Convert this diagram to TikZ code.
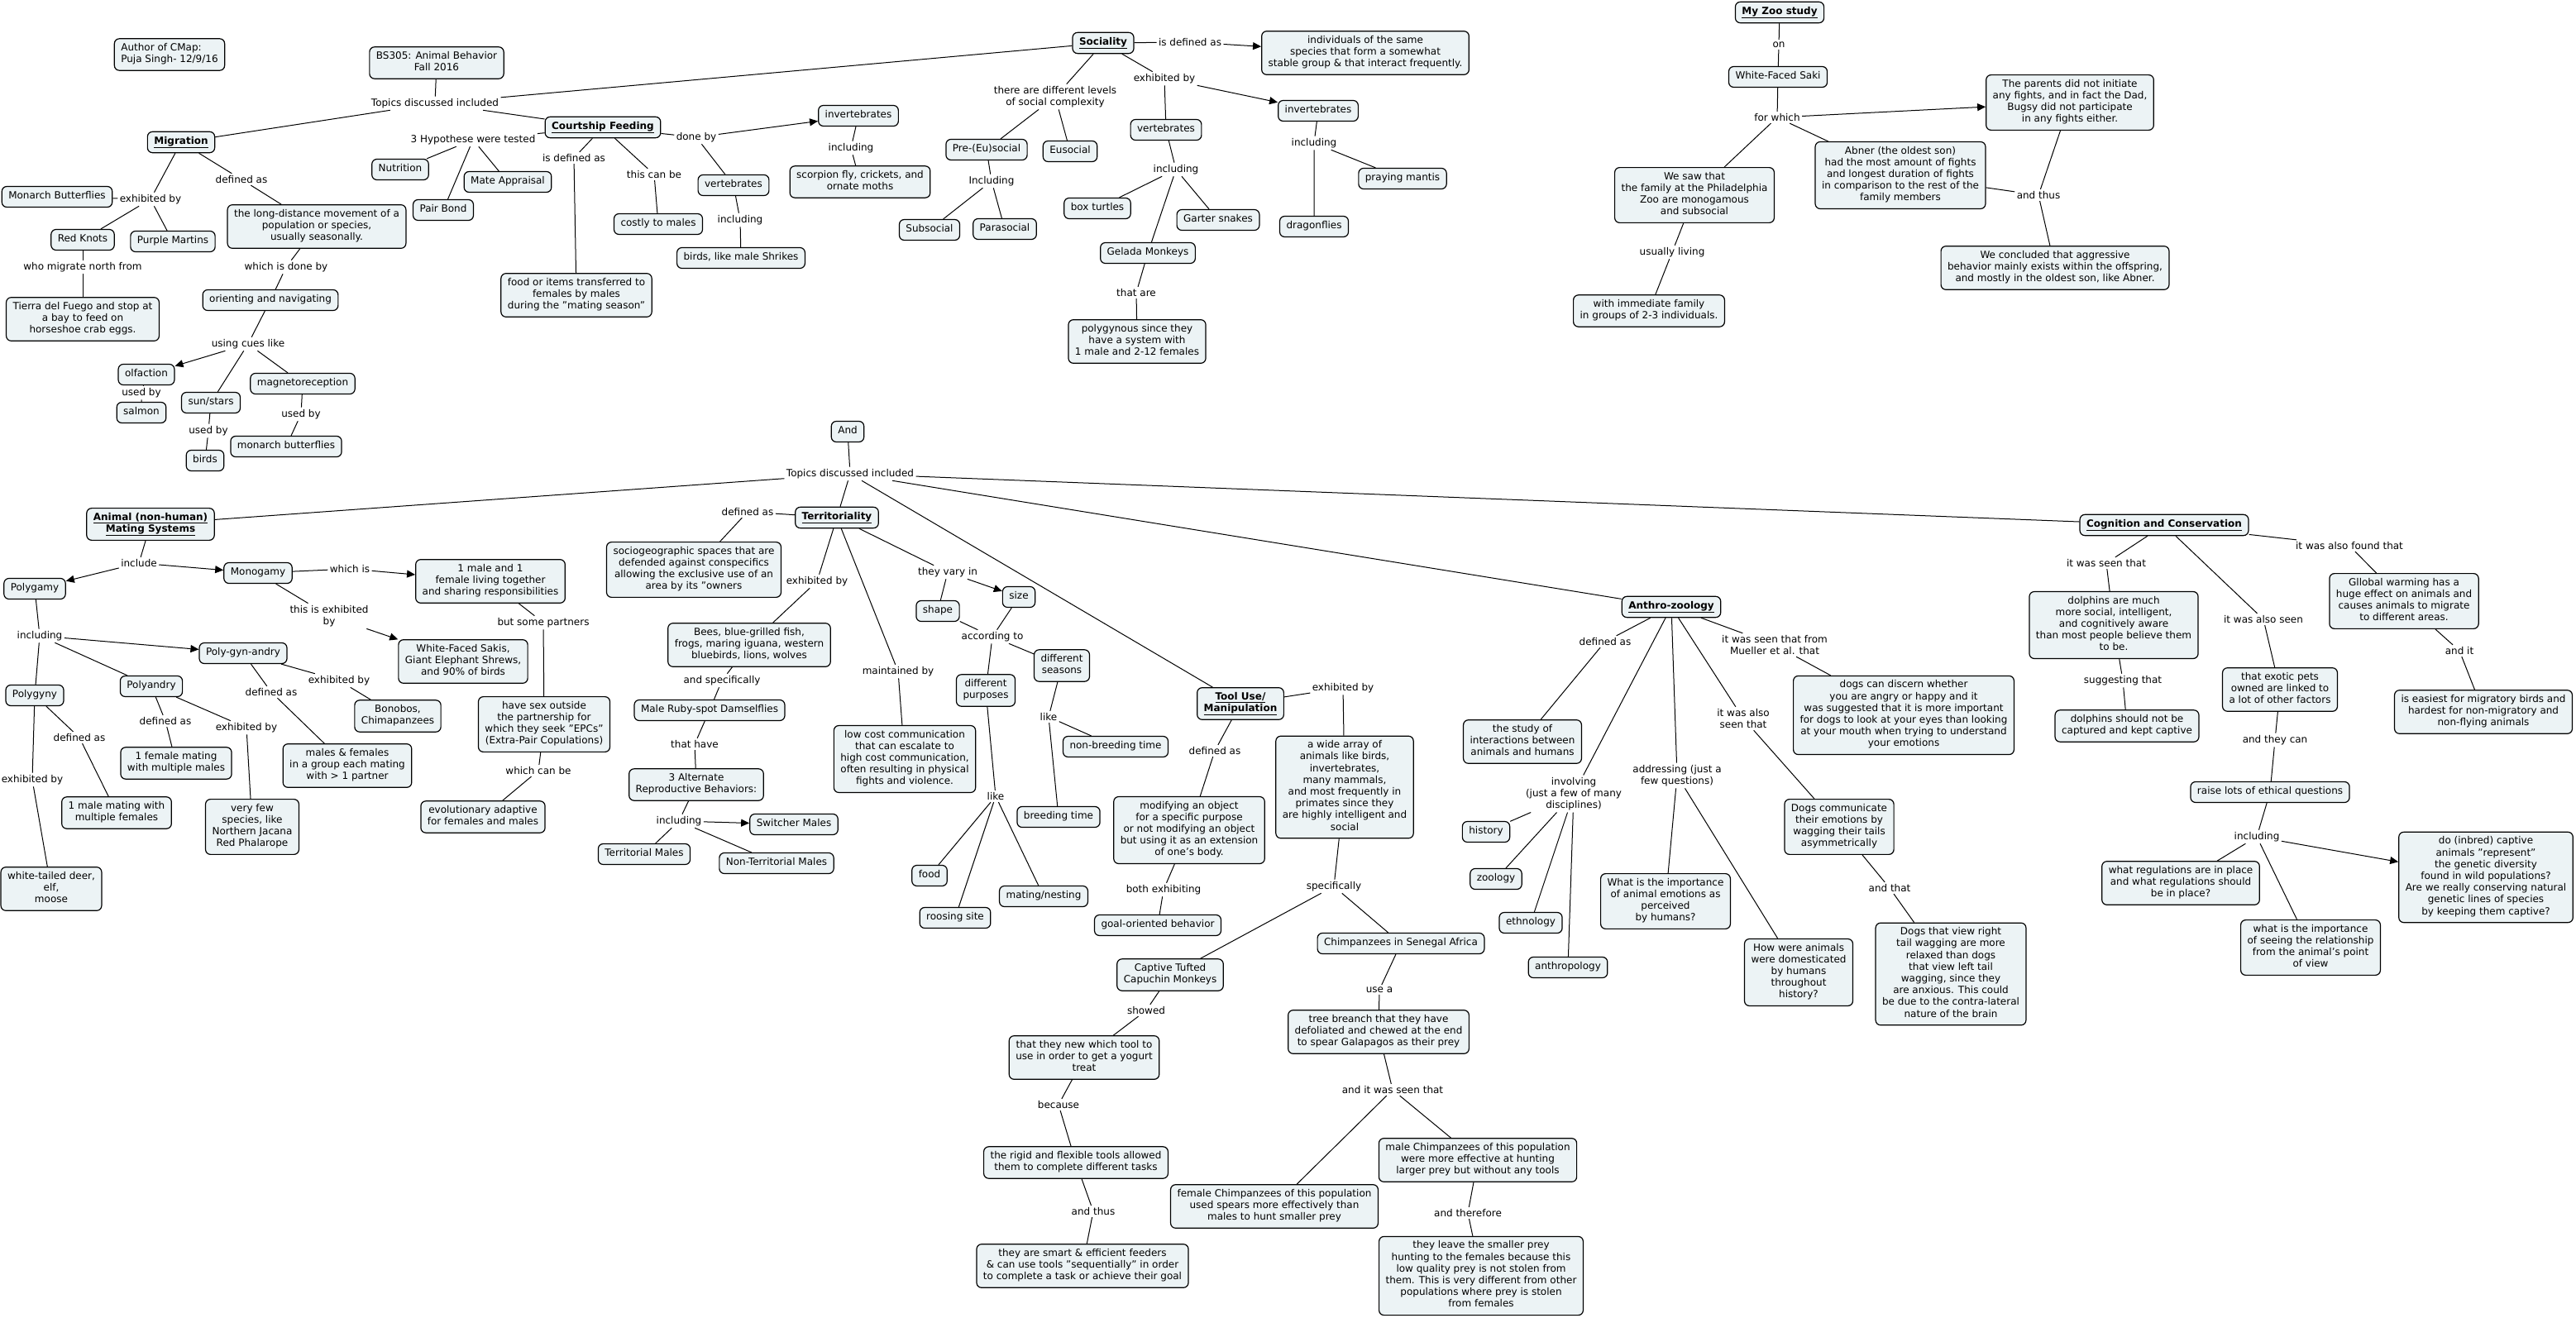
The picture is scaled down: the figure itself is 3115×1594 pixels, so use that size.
\documentclass[tikz,border=0pt]{standalone}
\usepackage{fontspec}
\setmainfont{DejaVu Sans}
\usetikzlibrary{arrows.meta}
\definecolor{cfill}{RGB}{236,243,245}

\begin{document}
\begin{tikzpicture}[x=1pt, y=-1pt, line width=1pt,
  cb/.style={draw, rounded corners=6pt, fill=cfill, line width=1.2pt, align=center,
             font=\fontsize{12}{14.2}\selectfont, inner xsep=8pt, inner ysep=5.4pt,
             execute at begin node=\strut, execute at end node=\strut},
  tb/.style={cb, font=\fontsize{12}{14.2}\selectfont\bfseries},
  lk/.style={align=center, font=\fontsize{12}{14.2}\selectfont, inner sep=2pt},
  arr/.style={-{Triangle[length=10pt,width=9pt]}}
]
\useasboundingbox (0,0) rectangle (3115,1594);

\node[cb, align=left] (auth) at (205,66) {Author of CMap:\\Puja Singh- 12/9/16};
\node[cb] (bs) at (528,76) {BS305: Animal Behavior\\Fall 2016};
\node[tb] (mig) at (219,172) {\underline{Migration}};
\node[tb] (cf) at (729,154) {\underline{Courtship Feeding}};
\node[cb] (nut) at (484,205) {Nutrition};
\node[cb] (mate) at (614,220) {Mate Appraisal};
\node[cb] (pair) at (536,254) {Pair Bond};
\node[cb] (monB) at (69,238) {Monarch Butterflies};
\node[cb] (rk) at (100,290) {Red Knots};
\node[cb] (pm) at (209,292) {Purple Martins};
\node[cb] (tierra) at (100,386) {Tierra del Fuego and stop at\\a bay to feed on\\horseshoe crab eggs.};
\node[cb] (ldm) at (383,274) {the long-distance movement of a\\population or species,\\usually seasonally.};
\node[cb] (orient) at (327,363) {orienting and navigating};
\node[cb] (olf) at (177,453) {olfaction};
\node[cb] (salm) at (171,499) {salmon};
\node[cb] (sun) at (255,487) {sun/stars};
\node[cb] (magn) at (366,464) {magnetoreception};
\node[cb] (bird) at (248,557) {birds};
\node[cb] (monb) at (346,540) {monarch butterflies};
\node[cb] (food) at (697,357) {food or items transferred to\\females by males\\during the "mating season"};
\node[cb] (cost) at (796,271) {costly to males};
\node[cb] (invc) at (1038,140) {invertebrates};
\node[cb] (scorp) at (1040,220) {scorpion fly, crickets, and\\ornate moths};
\node[cb] (vertc) at (887,224) {vertebrates};
\node[cb] (shrike) at (896,312) {birds, like male Shrikes};

\node[tb] (soc) at (1334,52) {\underline{Sociality}};
\node[cb] (indiv) at (1651,64) {individuals of the same\\species that form a somewhat\\stable group \& that interact frequently.};
\node[cb] (preeu) at (1193,181) {Pre-(Eu)social};
\node[cb] (eus) at (1294,183) {Eusocial};
\node[cb] (subs) at (1124,278) {Subsocial};
\node[cb] (paras) at (1215,277) {Parasocial};
\node[cb] (verts) at (1410,157) {vertebrates};
\node[cb] (boxt) at (1327,252) {box turtles};
\node[cb] (garter) at (1473,266) {Garter snakes};
\node[cb] (gelada) at (1388,306) {Gelada Monkeys};
\node[cb] (polyg) at (1375,413) {polygynous since they\\have a system with\\1 male and 2-12 females};
\node[cb] (invs) at (1594,134) {invertebrates};
\node[cb] (mantis) at (1696,216) {praying mantis};
\node[cb] (dragon) at (1589,274) {dragonflies};

\node[tb] (zoo) at (2152,15) {\underline{My Zoo study}};
\node[cb] (saki) at (2150,93) {White-Faced Saki};
\node[cb] (saw) at (2049,236) {We saw that\\the family at the Philadelphia\\Zoo are monogamous\\and subsocial};
\node[cb] (fam) at (1994,376) {with immediate family\\in groups of 2-3 individuals.};
\node[cb] (abner) at (2298,212) {Abner (the oldest son)\\had the most amount of fights\\and longest duration of fights\\in comparison to the rest of the\\family members};
\node[cb] (parents) at (2503,124) {The parents did not initiate\\any fights, and in fact the Dad,\\Bugsy did not participate\\in any fights either.};
\node[cb] (concl) at (2485,324) {We concluded that aggressive\\behavior mainly exists within the offspring,\\and mostly in the oldest son, like Abner.};

\node[cb] (and) at (1025,522) {And};
\node[tb] (ams) at (182,634) {\underline{Animal (non-human)}\\\underline{Mating Systems}};
\node[cb] (polygamy) at (42,712) {Polygamy};
\node[cb] (mono) at (312,693) {Monogamy};
\node[cb] (onemale) at (593,703) {1 male and 1\\female living together\\and sharing responsibilities};
\node[cb] (wfs) at (560,800) {White-Faced Sakis,\\Giant Elephant Shrews,\\and 90\% of birds};
\node[cb] (pga) at (294,790) {Poly-gyn-andry};
\node[cb] (pandry) at (183,830) {Polyandry};
\node[cb] (pgyny) at (42,841) {Polygyny};
\node[cb] (bono) at (481,866) {Bonobos,\\Chimapanzees};
\node[cb] (onefem) at (213,923) {1 female mating\\with multiple males};
\node[cb] (mf) at (420,926) {males \& females\\in a group each mating\\with > 1 partner};
\node[cb] (sexout) at (658,876) {have sex outside\\the partnership for\\which they seek "EPCs"\\(Extra-Pair Copulations)};
\node[cb] (evol) at (584,988) {evolutionary adaptive\\for females and males};
\node[cb] (onemm) at (141,983) {1 male mating with\\multiple females};
\node[cb] (fewsp) at (305,1000) {very few\\species, like\\Northern Jacana\\Red Phalarope};
\node[cb] (deer) at (62,1075) {white-tailed deer,\\elf,\\moose};

\node[tb] (terr) at (1012,626) {\underline{Territoriality}};
\node[cb] (socgeo) at (839,689) {sociogeographic spaces that are\\defended against conspecifics\\allowing the exclusive use of an\\area by its "owners};
\node[cb] (bees) at (906,780) {Bees, blue-grilled fish,\\frogs, maring iguana, western\\bluebirds, lions, wolves};
\node[cb] (ruby) at (858,859) {Male Ruby-spot Damselflies};
\node[cb] (alt3) at (842,949) {3 Alternate\\Reproductive Behaviors:};
\node[cb] (switch) at (960,997) {Switcher Males};
\node[cb] (terrm) at (779,1033) {Territorial Males};
\node[cb] (nonterr) at (939,1044) {Non-Territorial Males};
\node[cb] (lowcost) at (1094,918) {low cost communication\\that can escalate to\\high cost communication,\\often resulting in physical\\fights and violence.};
\node[cb] (size) at (1232,722) {size};
\node[cb] (shape) at (1134,739) {shape};
\node[cb] (seas) at (1284,805) {different\\seasons};
\node[cb] (purp) at (1192,835) {different\\purposes};
\node[cb] (nonbr) at (1349,903) {non-breeding time};
\node[cb] (breed) at (1280,988) {breeding time};
\node[cb] (foodp) at (1124,1059) {food};
\node[cb] (mating) at (1262,1084) {mating/nesting};
\node[cb] (roost) at (1155,1110) {roosing site};

\node[tb] (tool) at (1500,851) {\underline{Tool Use/}\\\underline{Manipulation}};
\node[cb] (modif) at (1438,1004) {modifying an object\\for a specific purpose\\or not modifying an object\\but using it as an extension\\of one's body.};
\node[cb] (goal) at (1400,1119) {goal-oriented behavior};
\node[cb] (wide) at (1626,952) {a wide array of\\animals like birds,\\invertebrates,\\many mammals,\\and most frequently in\\primates since they\\are highly intelligent and\\social};
\node[cb] (capuchin) at (1415,1179) {Captive Tufted\\Capuchin Monkeys};
\node[cb] (knew) at (1311,1279) {that they new which tool to\\use in order to get a yogurt\\treat};
\node[cb] (rigid) at (1301,1406) {the rigid and flexible tools allowed\\them to complete different tasks};
\node[cb] (smart) at (1309,1531) {they are smart \& efficient feeders\\\& can use tools "sequentially" in order\\to complete a task or achieve their goal};
\node[cb] (chimp) at (1694,1141) {Chimpanzees in Senegal Africa};
\node[cb] (tree) at (1667,1248) {tree breanch that they have\\defoliated and chewed at the end\\to spear Galapagos as their prey};
\node[cb] (femch) at (1541,1459) {female Chimpanzees of this population\\used spears more effectively than\\males to hunt smaller prey};
\node[cb] (malech) at (1787,1403) {male Chimpanzees of this population\\were more effective at hunting\\larger prey but without any tools};
\node[cb] (leave) at (1791,1543) {they leave the smaller prey\\hunting to the females because this\\low quality prey is not stolen from\\them. This is very different from other\\populations where prey is stolen\\from females};

\node[tb] (anthro) at (2021,734) {\underline{Anthro-zoology}};
\node[cb] (study) at (1841,897) {the study of\\interactions between\\animals and humans};
\node[cb] (hist) at (1797,1006) {history};
\node[cb] (zool) at (1809,1063) {zoology};
\node[cb] (ethno) at (1851,1116) {ethnology};
\node[cb] (anthp) at (1896,1170) {anthropology};
\node[cb] (emot) at (2014,1090) {What is the importance\\of animal emotions as\\perceived\\by humans?};
\node[cb] (domest) at (2175,1176) {How were animals\\were domesticated\\by humans\\throughout\\history?};
\node[cb] (dogcom) at (2224,1000) {Dogs communicate\\their emotions by\\wagging their tails\\asymmetrically};
\node[cb] (discern) at (2302,865) {dogs can discern whether\\you are angry or happy and it\\was suggested that it is more important\\for dogs to look at your eyes than looking\\at your mouth when trying to understand\\your emotions};
\node[cb] (rightw) at (2359,1178) {Dogs that view right\\tail wagging are more\\relaxed than dogs\\that view left tail\\wagging, since they\\are anxious. This could\\be due to the contra-lateral\\nature of the brain};

\node[tb] (cog) at (2617,635) {\underline{Cognition and Conservation}};
\node[cb] (dolph) at (2556,756) {dolphins are much\\more social, intelligent,\\and cognitively aware\\than most people believe them\\to be.};
\node[cb] (dolphno) at (2572,878) {dolphins should not be\\captured and kept captive};
\node[cb] (exotic) at (2757,834) {that exotic pets\\owned are linked to\\a lot of other factors};
\node[cb] (ethics) at (2745,958) {raise lots of ethical questions};
\node[cb] (regul) at (2637,1068) {what regulations are in place\\and what regulations should\\be in place?};
\node[cb] (pov) at (2794,1146) {what is the importance\\of seeing the relationship\\from the animal's point\\of view};
\node[cb] (inbred) at (3006,1061) {do (inbred) captive\\animals "represent"\\the genetic diversity\\found in wild populations?\\Are we really conserving natural\\genetic lines of species\\by keeping them captive?};
\node[cb] (warm) at (2907,727) {Gllobal warming has a\\huge effect on animals and\\causes animals to migrate\\to different areas.};
\node[cb] (easy) at (3003,861) {is easiest for migratory birds and\\hardest for non-migratory and\\non-flying animals};

\node[lk] (lTop1) at (526,125) {Topics discussed included};
\node[lk] (lHyp) at (572,169) {3 Hypothese were tested};
\node[lk] (lMigDef) at (292,217) {defined as};
\node[lk] (lMigEx) at (182,241) {exhibited by};
\node[lk] (lWho) at (100,323) {who migrate north from};
\node[lk] (lDone) at (346,323) {which is done by};
\node[lk] (lCues) at (300,416) {using cues like};
\node[lk] (lUse1) at (171,475) {used by};
\node[lk] (lUse2) at (252,521) {used by};
\node[lk] (lUse3) at (364,501) {used by};
\node[lk] (lCfDef) at (694,191) {is defined as};
\node[lk] (lCan) at (791,211) {this can be};
\node[lk] (lDoneBy) at (842,166) {done by};
\node[lk] (lIncC1) at (1029,179) {including};
\node[lk] (lIncC2) at (895,266) {including};
\node[lk] (lSocDef) at (1439,51) {is defined as};
\node[lk] (lLevels) at (1276,117) {there are different levels\\of social complexity};
\node[lk] (lSocEx) at (1408,95) {exhibited by};
\node[lk] (lIncPre) at (1199,219) {Including};
\node[lk] (lIncV) at (1422,205) {including};
\node[lk] (lThat) at (1374,354) {that are};
\node[lk] (lIncI) at (1589,173) {including};
\node[lk] (lOn) at (2151,54) {on};
\node[lk] (lFor) at (2149,142) {for which};
\node[lk] (lLiving) at (2022,305) {usually living};
\node[lk] (lThus1) at (2465,236) {and thus};
\node[lk] (lTop2) at (1028,573) {Topics discussed included};
\node[lk] (lInclude) at (168,681) {include};
\node[lk] (lWhich) at (423,688) {which is};
\node[lk] (lExhMono) at (398,745) {this is exhibited\\by};
\node[lk] (lBut) at (657,753) {but some partners};
\node[lk] (lCanBe) at (651,932) {which can be};
\node[lk] (lIncPoly) at (48,769) {including};
\node[lk] (lExPga) at (410,823) {exhibited by};
\node[lk] (lDefPga) at (328,837) {defined as};
\node[lk] (lDefPa) at (200,872) {defined as};
\node[lk] (lExPa) at (298,880) {exhibited by};
\node[lk] (lDefPg) at (96,892) {defined as};
\node[lk] (lExPg) at (39,943) {exhibited by};
\node[lk] (lDefT) at (904,619) {defined as};
\node[lk] (lExT) at (988,703) {exhibited by};
\node[lk] (lSpec) at (873,823) {and specifically};
\node[lk] (lHave) at (840,900) {that have};
\node[lk] (lInc3) at (821,993) {including};
\node[lk] (lMaint) at (1086,812) {maintained by};
\node[lk] (lVary) at (1146,692) {they vary in};
\node[lk] (lAcc) at (1200,770) {according to};
\node[lk] (lLikeS) at (1268,867) {like};
\node[lk] (lLikeP) at (1204,963) {like};
\node[lk] (lDefTool) at (1469,908) {defined as};
\node[lk] (lBoth) at (1407,1076) {both exhibiting};
\node[lk] (lExTool) at (1624,832) {exhibited by};
\node[lk] (lSpecif) at (1613,1072) {specifically};
\node[lk] (lShowed) at (1386,1222) {showed};
\node[lk] (lBecause) at (1280,1336) {because};
\node[lk] (lThus2) at (1322,1465) {and thus};
\node[lk] (lUseA) at (1668,1197) {use a};
\node[lk] (lSeen) at (1684,1318) {and it was seen that};
\node[lk] (lTherefore) at (1775,1467) {and therefore};
\node[lk] (lDefA) at (1941,776) {defined as};
\node[lk] (lInvolv) at (1903,960) {involving\\(just a few of many\\disciplines)};
\node[lk] (lAddr) at (2028,938) {addressing (just a\\few questions)};
\node[lk] (lAlso) at (2108,869) {it was also\\seen that};
\node[lk] (lMueller) at (2146,780) {it was seen that from\\Mueller et al. that};
\node[lk] (lAndThat) at (2285,1074) {and that};
\node[lk] (lSeenC) at (2547,681) {it was seen that};
\node[lk] (lSugg) at (2567,823) {suggesting that};
\node[lk] (lAlsoSeen) at (2737,749) {it was also seen};
\node[lk] (lTheyCan) at (2751,895) {and they can};
\node[lk] (lIncCog) at (2729,1012) {including};
\node[lk] (lFound) at (2841,660) {it was also found that};
\node[lk] (lAndIt) at (2974,787) {and it};

\draw (bs) -- (lTop1) (lTop1) -- (mig) (lTop1) -- (cf) (lTop1) -- (soc);
\draw (mig) -- (lMigDef) (lMigDef) -- (ldm);
\draw (mig) -- (lMigEx) (lMigEx) -- (monB) (lMigEx) -- (rk) (lMigEx) -- (pm);
\draw (rk) -- (lWho) (lWho) -- (tierra);
\draw (ldm) -- (lDone) (lDone) -- (orient);
\draw (orient) -- (lCues) (lCues) -- (sun) (lCues) -- (magn);
\draw[arr] (lCues) -- (olf);
\draw (olf) -- (lUse1) (lUse1) -- (salm);
\draw (sun) -- (lUse2) (lUse2) -- (bird);
\draw (magn) -- (lUse3) (lUse3) -- (monb);
\draw (cf) -- (lHyp) (lHyp) -- (nut) (lHyp) -- (mate) (lHyp) -- (pair);
\draw (cf) -- (lCfDef) (lCfDef) -- (food);
\draw (cf) -- (lCan) (lCan) -- (cost);
\draw (cf) -- (lDoneBy) (lDoneBy) -- (vertc);
\draw[arr] (lDoneBy) -- (invc);
\draw (invc) -- (lIncC1) (lIncC1) -- (scorp);
\draw (vertc) -- (lIncC2) (lIncC2) -- (shrike);

\draw (soc) -- (lSocDef);
\draw[arr] (lSocDef) -- (indiv);
\draw (soc) -- (lLevels) (lLevels) -- (preeu) (lLevels) -- (eus);
\draw (preeu) -- (lIncPre) (lIncPre) -- (subs) (lIncPre) -- (paras);
\draw (soc) -- (lSocEx) (lSocEx) -- (verts);
\draw[arr] (lSocEx) -- (invs);
\draw (verts) -- (lIncV) (lIncV) -- (boxt) (lIncV) -- (garter) (lIncV) -- (gelada);
\draw (gelada) -- (lThat) (lThat) -- (polyg);
\draw (invs) -- (lIncI) (lIncI) -- (mantis) (lIncI) -- (dragon);

\draw (zoo) -- (lOn) (lOn) -- (saki) (saki) -- (lFor) (lFor) -- (saw) (lFor) -- (abner);
\draw[arr] (lFor) -- (parents);
\draw (saw) -- (lLiving) (lLiving) -- (fam);
\draw (abner) -- (lThus1) (parents) -- (lThus1) (lThus1) -- (concl);

\draw (and) -- (lTop2) (lTop2) -- (ams) (lTop2) -- (terr) (lTop2) -- (tool) (lTop2) -- (anthro) (lTop2) -- (cog);
\draw (ams) -- (lInclude);
\draw[arr] (lInclude) -- (polygamy);
\draw[arr] (lInclude) -- (mono);
\draw (mono) -- (lWhich);
\draw[arr] (lWhich) -- (onemale);
\draw (mono) -- (lExhMono);
\draw[arr] (lExhMono) -- (wfs);
\draw (onemale) -- (lBut) (lBut) -- (sexout) (sexout) -- (lCanBe) (lCanBe) -- (evol);
\draw (polygamy) -- (lIncPoly) (lIncPoly) -- (pgyny) (lIncPoly) -- (pandry);
\draw[arr] (lIncPoly) -- (pga);
\draw (pga) -- (lExPga) (lExPga) -- (bono);
\draw (pga) -- (lDefPga) (lDefPga) -- (mf);
\draw (pandry) -- (lDefPa) (lDefPa) -- (onefem);
\draw (pandry) -- (lExPa) (lExPa) -- (fewsp);
\draw (pgyny) -- (lDefPg) (lDefPg) -- (onemm);
\draw (pgyny) -- (lExPg) (lExPg) -- (deer);

\draw (terr) -- (lDefT) (lDefT) -- (socgeo);
\draw (terr) -- (lExT) (lExT) -- (bees) (bees) -- (lSpec) (lSpec) -- (ruby) (ruby) -- (lHave) (lHave) -- (alt3);
\draw (alt3) -- (lInc3) (lInc3) -- (terrm) (lInc3) -- (nonterr);
\draw[arr] (lInc3) -- (switch);
\draw (terr) -- (lMaint) (lMaint) -- (lowcost);
\draw (terr) -- (lVary) (lVary) -- (shape);
\draw[arr] (lVary) -- (size);
\draw (shape) -- (lAcc) (size) -- (lAcc) (lAcc) -- (purp) (lAcc) -- (seas);
\draw (seas) -- (lLikeS) (lLikeS) -- (nonbr) (lLikeS) -- (breed);
\draw (purp) -- (lLikeP) (lLikeP) -- (foodp) (lLikeP) -- (roost) (lLikeP) -- (mating);

\draw (tool) -- (lDefTool) (lDefTool) -- (modif) (modif) -- (lBoth) (lBoth) -- (goal);
\draw (tool) -- (lExTool) (lExTool) -- (wide) (wide) -- (lSpecif) (lSpecif) -- (capuchin) (lSpecif) -- (chimp);
\draw (capuchin) -- (lShowed) (lShowed) -- (knew) (knew) -- (lBecause) (lBecause) -- (rigid) (rigid) -- (lThus2) (lThus2) -- (smart);
\draw (chimp) -- (lUseA) (lUseA) -- (tree) (tree) -- (lSeen) (lSeen) -- (femch) (lSeen) -- (malech);
\draw (malech) -- (lTherefore) (lTherefore) -- (leave);

\draw (anthro) -- (lDefA) (lDefA) -- (study);
\draw (anthro) -- (lInvolv) (lInvolv) -- (hist) (lInvolv) -- (zool) (lInvolv) -- (ethno) (lInvolv) -- (anthp);
\draw (anthro) -- (lAddr) (lAddr) -- (emot) (lAddr) -- (domest);
\draw (anthro) -- (lAlso) (lAlso) -- (dogcom) (dogcom) -- (lAndThat) (lAndThat) -- (rightw);
\draw (anthro) -- (lMueller) (lMueller) -- (discern);

\draw (cog) -- (lSeenC) (lSeenC) -- (dolph) (dolph) -- (lSugg) (lSugg) -- (dolphno);
\draw (cog) -- (lAlsoSeen) (lAlsoSeen) -- (exotic) (exotic) -- (lTheyCan) (lTheyCan) -- (ethics);
\draw (ethics) -- (lIncCog) (lIncCog) -- (regul) (lIncCog) -- (pov);
\draw[arr] (lIncCog) -- (inbred);
\draw (cog) -- (lFound) (lFound) -- (warm) (warm) -- (lAndIt) (lAndIt) -- (easy);
\end{tikzpicture}
\end{document}
